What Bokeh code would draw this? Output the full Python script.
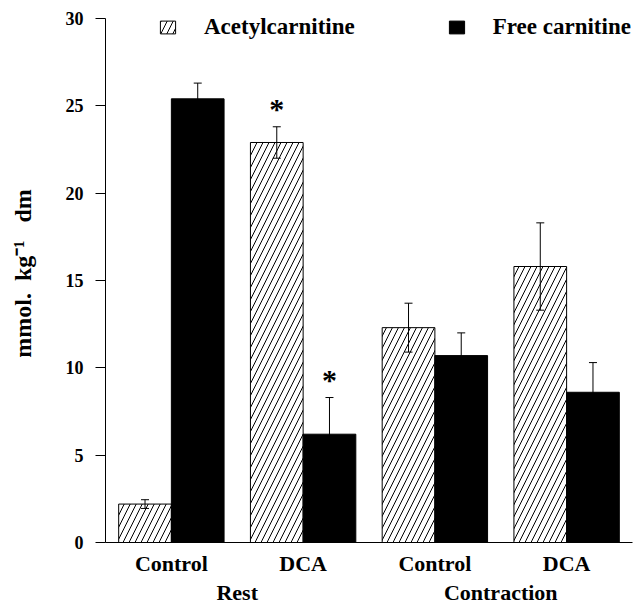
from bokeh.plotting import figure
from bokeh.models import (ColumnDataSource, FactorRange, Range1d, Whisker, TeeHead,
                          Legend, LegendItem, FixedTicker)
from bokeh.transform import dodge
from bokeh.embed import file_html
from bokeh.resources import INLINE
from bokeh.core.properties import value

# ---- data ----
groups = ["Rest", "Rest", "Contraction", "Contraction"]
subgroups = ["Control", "DCA", "Control", "DCA"]
acetyl = [2.2, 22.9, 12.3, 15.8]
acetyl_err = [0.25, 0.9, 1.4, 2.5]
free = [25.4, 6.2, 10.7, 8.6]
free_err = [0.9, 2.1, 1.3, 1.7]
acetyl_sig = [False, True, False, False]
free_sig = [False, True, False, False]
y_ticks = [0, 5, 10, 15, 20, 25, 30]
series_labels = ["Acetylcarnitine", "Free carnitine"]
y_label = "mmol.\u00a0\u00a0kg\u207b\u00b9\u00a0\u00a0\u00a0dm"

FONT = "Liberation Serif"

factors = list(zip(groups, subgroups))
src = ColumnDataSource(dict(
    x=factors,
    acetyl=acetyl, free=free,
    a_up=[v + e for v, e in zip(acetyl, acetyl_err)],
    a_lo=[v - e for v, e in zip(acetyl, acetyl_err)],
    f_up=[v + e for v, e in zip(free, free_err)],
    f_lo=[v - e for v, e in zip(free, free_err)],
))

# frame extends a little above 30 so the legend sits inside it; axis line stops at 30
p = figure(width=636, height=609,
           x_range=FactorRange(*factors, group_padding=0, factor_padding=0, range_padding=0),
           y_range=Range1d(0, 30.8),
           output_backend="svg", toolbar_location=None,
           min_border_left=105, min_border_right=4, min_border_top=4, min_border_bottom=67)

p.outline_line_color = None
p.xgrid.visible = False
p.ygrid.visible = False
p.background_fill_color = "white"
p.border_fill_color = "white"

OFF = 0.2
W = 0.4
r_a = p.vbar(x=dodge("x", -OFF, range=p.x_range), top="acetyl", width=W, source=src,
             fill_color="white", line_color="black", line_width=1,
             hatch_pattern="/", hatch_color="black", hatch_weight=1, hatch_scale=12)
r_f = p.vbar(x=dodge("x", OFF, range=p.x_range), top="free", width=W, source=src,
             fill_color="black", line_color="black", line_width=1)

for off, up, lo in [(-OFF, "a_up", "a_lo"), (OFF, "f_up", "f_lo")]:
    w = Whisker(base=dodge("x", off, range=p.x_range), upper=up, lower=lo, source=src,
                line_color="black", line_width=1, level="annotation",
                upper_head=TeeHead(size=8, line_color="black", line_width=1),
                lower_head=TeeHead(size=8, line_color="black", line_width=1))
    p.add_layout(w)

# significance asterisks
star_a = ColumnDataSource(dict(x=[f for f, s in zip(factors, acetyl_sig) if s],
                               y=[v + e for v, e, s in zip(acetyl, acetyl_err, acetyl_sig) if s]))
star_f = ColumnDataSource(dict(x=[f for f, s in zip(factors, free_sig) if s],
                               y=[v + e for v, e, s in zip(free, free_err, free_sig) if s]))
for srcs, off in [(star_a, -OFF), (star_f, OFF)]:
    p.text(x=dodge("x", off, range=p.x_range), y="y", text=value("*"), source=srcs,
           text_font=value(FONT), text_font_style="bold", text_font_size="30px",
           text_align="center", text_baseline="alphabetic", y_offset=-18, text_color="black")

# axes
ya = p.yaxis[0]
ya.ticker = FixedTicker(ticks=y_ticks)
ya.bounds = (y_ticks[0], y_ticks[-1])
ya.minor_tick_line_color = None
ya.major_tick_out = 10
ya.major_tick_in = 0
ya.axis_line_color = "black"
ya.major_tick_line_color = "black"
ya.major_label_text_font = FONT
ya.major_label_text_font_style = "bold"
ya.major_label_text_font_size = "18px"
ya.major_label_text_color = "black"
ya.major_label_standoff = 12
ya.axis_label = y_label
ya.axis_label_text_font = FONT
ya.axis_label_text_font_style = "bold"
ya.axis_label_text_font_size = "24px"
ya.axis_label_text_color = "black"
ya.axis_label_standoff = 27

xa = p.xaxis[0]
xa.major_tick_line_color = None
xa.minor_tick_line_color = None
xa.major_tick_out = 7
xa.major_tick_in = 0
xa.axis_line_color = "black"
xa.major_label_text_font = FONT
xa.major_label_text_font_style = "bold"
xa.major_label_text_font_size = "22px"
xa.major_label_text_color = "black"
xa.major_label_standoff = 1
xa.group_text_font = FONT
xa.group_text_font_style = "bold"
xa.group_text_font_size = "22px"
xa.group_text_color = "black"
xa.separator_line_alpha = 0

legend = Legend(items=[LegendItem(label=series_labels[0], renderers=[r_a]),
                       LegendItem(label=series_labels[1], renderers=[r_f])],
                orientation="horizontal", location=(53, 502),
                glyph_width=19, glyph_height=16, label_standoff=27, spacing=92,
                padding=0, margin=0, border_line_color=None, background_fill_alpha=0,
                label_text_font=FONT, label_text_font_style="bold",
                label_text_font_size="23px", label_height=16, label_text_color="black")
p.add_layout(legend)

open("out.html", "w").write(file_html(p, INLINE))
